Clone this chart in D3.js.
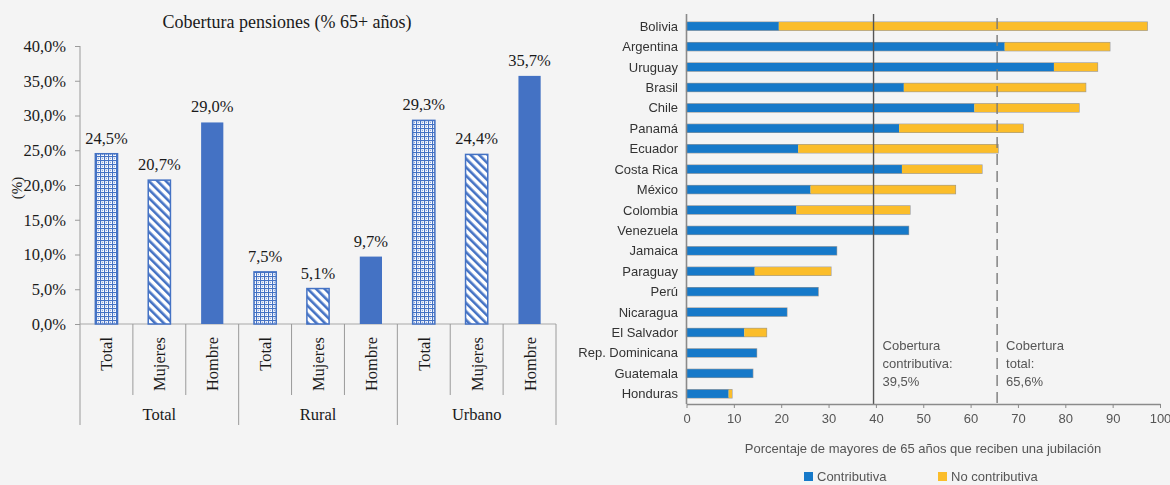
<!DOCTYPE html>
<html>
<head>
<meta charset="utf-8">
<script src="https://cdn.jsdelivr.net/npm/d3@7"></script>
<style>
  html, body { margin: 0; padding: 0; background: #f4f4f4; }
  svg { display: block; }
</style>
</head>
<body>
<svg id="chart" width="1170" height="485"></svg>
<script>
// ---- Left panel: pension coverage by area and sex ----
const areaGroups = ["Total", "Rural", "Urbano"];
const sexSeries = ["Total", "Mujeres", "Hombre"];
const coverageTotal = [24.5, 20.7, 29.0];
const coverageRural = [7.5, 5.1, 9.7];
const coverageUrbano = [29.3, 24.4, 35.7];
const yTicks = [0, 5, 10, 15, 20, 25, 30, 35, 40];

// ---- Right panel: share of 65+ receiving a pension, by country ----
const countries = ["Bolivia", "Argentina", "Uruguay", "Brasil", "Chile", "Panamá", "Ecuador",
  "Costa Rica", "México", "Colombia", "Venezuela", "Jamaica", "Paraguay", "Perú", "Nicaragua",
  "El Salvador", "Rep. Dominicana", "Guatemala", "Honduras"];
const contributiva = [19.5, 67.2, 77.6, 45.9, 60.8, 44.9, 23.6, 45.5, 26.2, 23.2, 46.9, 31.7,
  14.4, 27.8, 21.2, 12.2, 14.8, 14.0, 8.9];
const noContributiva = [77.8, 22.2, 9.2, 38.4, 22.1, 26.2, 42.2, 16.9, 30.6, 24.0, 0, 0,
  16.1, 0, 0, 4.7, 0, 0, 0.7];
const xTicks = [0, 10, 20, 30, 40, 50, 60, 70, 80, 90, 100];
const coberturaContributiva = 39.5;
const coberturaTotal = 65.6;

const svg = d3.select("#chart");
const defs = svg.append("defs");
const BLUE = "#4472C4";

// Fill patterns for the left panel bars
const grid = defs.append("pattern").attr("id", "pat-total")
  .attr("patternUnits", "userSpaceOnUse").attr("width", 4).attr("height", 4);
grid.append("rect").attr("width", 4).attr("height", 4).attr("fill", "#ffffff");
grid.append("rect").attr("x", 0).attr("y", 0).attr("width", 4).attr("height", 1.1).attr("fill", BLUE);
grid.append("rect").attr("x", 0).attr("y", 0).attr("width", 1.1).attr("height", 4).attr("fill", BLUE);
grid.append("circle").attr("cx", 2.5).attr("cy", 2.5).attr("r", 0.7).attr("fill", "#8aa6dd");

const stripes = defs.append("pattern").attr("id", "pat-mujeres")
  .attr("patternUnits", "userSpaceOnUse").attr("width", 6).attr("height", 6)
  .attr("patternTransform", "rotate(-45)");
stripes.append("rect").attr("width", 6).attr("height", 6).attr("fill", "#ffffff");
stripes.append("rect").attr("x", 0).attr("y", 0).attr("width", 2.6).attr("height", 6).attr("fill", BLUE);

const fills = { "Total": "url(#pat-total)", "Mujeres": "url(#pat-mujeres)", "Hombre": BLUE };

const esLocale = d3.formatLocale({ decimal: ",", thousands: ".", grouping: [3], currency: ["", " €"] });
const pct = v => esLocale.format(".1f")(v) + "%";

// ---------------- Left panel ----------------
const L = { left: 80, right: 556, top: 46, bottom: 324, catBottom: 395, groupBottom: 425 };
const serif = "'Liberation Serif', 'Times New Roman', serif";
const left = svg.append("g").attr("font-family", serif).attr("fill", "#1a1a1a");

const groupValues = [coverageTotal, coverageRural, coverageUrbano];
const leftBars = [];
areaGroups.forEach((g, gi) => sexSeries.forEach((s, si) =>
  leftBars.push({ key: g + "|" + s, group: g, series: s, value: groupValues[gi][si] })));

const xL = d3.scaleBand().domain(leftBars.map(d => d.key))
  .range([L.left, L.right]).paddingInner(0.58).paddingOuter(0.29);
const yL = d3.scaleLinear().domain([0, 40]).range([L.bottom, L.top]);

left.append("text").attr("x", 287).attr("y", 28).attr("text-anchor", "middle")
  .attr("font-size", 18).text("Cobertura pensiones (% 65+ años)");

left.append("text").attr("transform", "translate(22,188) rotate(-90)")
  .attr("text-anchor", "middle").attr("font-size", 15).text("(%)");

// y axis
const yAxis = left.append("g").attr("transform", `translate(${L.left},0)`)
  .call(d3.axisLeft(yL).tickValues(yTicks).tickFormat(pct).tickSize(5).tickSizeOuter(0));
yAxis.select(".domain").remove();
yAxis.selectAll(".tick line").attr("stroke", "#9a9a9a");
yAxis.selectAll(".tick text").attr("font-family", serif).attr("font-size", 16.5)
  .attr("fill", "#1a1a1a").attr("x", -14);
left.append("line").attr("x1", L.left).attr("x2", L.left).attr("y1", L.top).attr("y2", L.groupBottom)
  .attr("stroke", "#9a9a9a");
left.append("line").attr("x1", L.left).attr("x2", L.right).attr("y1", L.bottom).attr("y2", L.bottom)
  .attr("stroke", "#a8a8a8");

// category separators
const step = xL.step();
leftBars.forEach((d, i) => {
  const xs = xL(d.key) - (step - xL.bandwidth()) / 2 + step;
  const isGroupEnd = (i % 3) === 2;
  left.append("line").attr("x1", xs).attr("x2", xs).attr("y1", L.bottom)
    .attr("y2", isGroupEnd ? L.groupBottom : L.catBottom).attr("stroke", "#9a9a9a");
});

// bars
left.selectAll("rect.bar").data(leftBars).join("rect").attr("class", "bar")
  .attr("x", d => xL(d.key)).attr("width", xL.bandwidth())
  .attr("y", d => yL(d.value)).attr("height", d => yL(0) - yL(d.value))
  .attr("fill", d => fills[d.series])
  .attr("stroke", d => d.series === "Hombre" ? "none" : BLUE).attr("stroke-width", 1.5);

// value labels
left.selectAll("text.val").data(leftBars).join("text").attr("class", "val")
  .attr("x", d => xL(d.key) + xL.bandwidth() / 2).attr("y", d => yL(d.value) - 10)
  .attr("text-anchor", "middle").attr("font-size", 16.5).text(d => pct(d.value));

// category labels (rotated)
left.selectAll("text.cat").data(leftBars).join("text").attr("class", "cat")
  .attr("transform", d => `translate(${xL(d.key) + xL.bandwidth() / 2 + 6},337) rotate(-90)`)
  .attr("text-anchor", "end").attr("font-size", 16.5).text(d => d.series);

// group labels
areaGroups.forEach(g => {
  const keys = sexSeries.map(s => g + "|" + s);
  const cx = (xL(keys[0]) + xL(keys[2]) + xL.bandwidth()) / 2;
  left.append("text").attr("x", cx).attr("y", 420).attr("text-anchor", "middle")
    .attr("font-size", 16.5).text(g);
});

// ---------------- Right panel ----------------
const R = { left: 686.5, right: 1160, top: 16, bottom: 404 };
const sans = "'Liberation Sans Narrow', 'Arial Narrow', 'Liberation Sans', Arial, sans-serif";
defs.append("filter").attr("id", "soft").append("feGaussianBlur").attr("stdDeviation", 0.45);
const right = svg.append("g").attr("font-family", sans).attr("filter", "url(#soft)");

const xR = d3.scaleLinear().domain([0, 100]).range([R.left, R.right]);
const yR = d3.scaleBand().domain(countries).range([R.top, R.bottom]).paddingInner(0.6).paddingOuter(0.3);

const rows = countries.map((c, i) => ({ country: c, contrib: contributiva[i], noContrib: noContributiva[i] }));

// bars: contributory then non-contributory stacked
const stackRows = right.selectAll("g.row").data(rows).join("g").attr("class", "row");
stackRows.append("rect")
  .attr("x", d => xR(0)).attr("y", d => yR(d.country))
  .attr("width", d => xR(d.contrib + d.noContrib) - xR(0)).attr("height", yR.bandwidth())
  .attr("fill", "none").attr("stroke", "#9a9a9a").attr("stroke-width", 1.2);
stackRows.append("rect")
  .attr("x", d => xR(0)).attr("y", d => yR(d.country))
  .attr("width", d => xR(d.contrib) - xR(0)).attr("height", yR.bandwidth())
  .attr("fill", "#1479c9");
stackRows.filter(d => d.noContrib > 0).append("rect")
  .attr("x", d => xR(d.contrib)).attr("y", d => yR(d.country))
  .attr("width", d => xR(d.contrib + d.noContrib) - xR(d.contrib)).attr("height", yR.bandwidth())
  .attr("fill", "#fbbd2a");

// country labels
right.selectAll("text.country").data(rows).join("text").attr("class", "country")
  .attr("x", 678).attr("y", d => yR(d.country) + yR.bandwidth() / 2)
  .attr("dy", "0.35em").attr("text-anchor", "end").attr("font-size", 13)
  .attr("fill", "#333").text(d => d.country);

// left axis line
right.append("line").attr("x1", R.left).attr("x2", R.left).attr("y1", 14).attr("y2", R.bottom)
  .attr("stroke", "#8a8a8a").attr("stroke-width", 1.6);

// reference lines
right.append("line").attr("x1", xR(coberturaContributiva)).attr("x2", xR(coberturaContributiva))
  .attr("y1", 14).attr("y2", R.bottom).attr("stroke", "#555").attr("stroke-width", 1.4);
right.append("line").attr("x1", xR(coberturaTotal)).attr("x2", xR(coberturaTotal))
  .attr("y1", 18).attr("y2", R.bottom).attr("stroke", "#7a7a7a").attr("stroke-width", 1.4)
  .attr("stroke-dasharray", "11,6");

// annotations
const annot = [
  { x: coberturaContributiva, lines: ["Cobertura", "contributiva:", esLocale.format(".1f")(coberturaContributiva) + "%"] },
  { x: coberturaTotal, lines: ["Cobertura", "total:", esLocale.format(".1f")(coberturaTotal) + "%"] }
];
annot.forEach(a => {
  const t = right.append("text").attr("font-size", 13).attr("fill", "#555");
  a.lines.forEach((ln, i) => t.append("tspan").attr("x", xR(a.x) + 9).attr("y", 350 + i * 18).text(ln));
});

// x axis
const xAxis = right.append("g").attr("transform", `translate(0,${R.bottom})`)
  .call(d3.axisBottom(xR).tickValues(xTicks).tickFormat(d3.format("d")).tickSize(4).tickSizeOuter(0));
xAxis.select(".domain").attr("stroke", "#8a8a8a").attr("stroke-width", 1.6);
xAxis.selectAll(".tick line").attr("stroke", "#8a8a8a");
xAxis.selectAll(".tick text").attr("font-family", sans).attr("font-size", 13)
  .attr("fill", "#555").attr("y", 10);

right.append("text").attr("x", 923).attr("y", 453).attr("text-anchor", "middle")
  .attr("font-size", 13).attr("fill", "#555")
  .text("Porcentaje de mayores de 65 años que reciben una jubilación");

// legend
const legend = [{ label: "Contributiva", color: "#1479c9", x: 804 }, { label: "No contributiva", color: "#fbbd2a", x: 938 }];
legend.forEach(l => {
  right.append("rect").attr("x", l.x).attr("y", 472).attr("width", 9).attr("height", 9).attr("fill", l.color);
  right.append("text").attr("x", l.x + 13).attr("y", 481).attr("font-size", 13).attr("fill", "#555").text(l.label);
});
</script>
</body>
</html>
